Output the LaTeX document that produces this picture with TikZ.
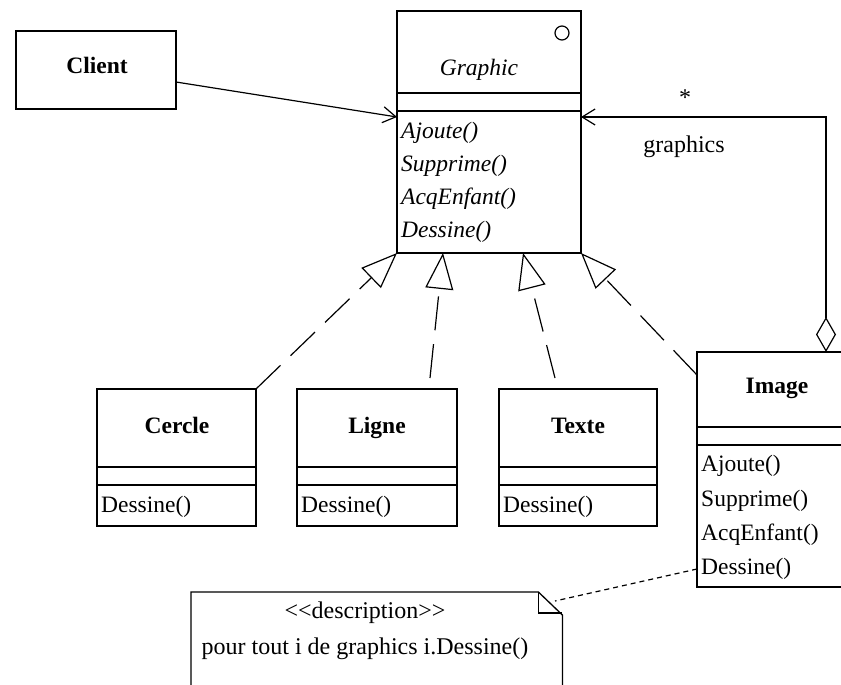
\documentclass[tikz,border=0pt]{standalone}
\usepackage{fontspec}
\setmainfont{Liberation Serif}
\usetikzlibrary{arrows.meta,calc}
\begin{document}
\begin{tikzpicture}[x=1pt,y=-1pt,
  box/.style={draw,line width=1.3pt,minimum width=160pt,anchor=north west,inner sep=0pt,outer sep=0pt},
  lbl/.style={font=\fontsize{24}{28}\selectfont,inner sep=0pt,text height=17pt,text depth=5pt},
  bld/.style={font=\fontsize{23.5}{28}\selectfont\bfseries,inner sep=0pt,text height=17pt,text depth=5pt},
  meth/.style={font=\fontsize{23.5}{28}\selectfont,inner sep=0pt,anchor=west,text height=17pt,text depth=5pt},
  imeth/.style={font=\fontsize{23.5}{28}\selectfont\itshape,inner sep=0pt,anchor=west,text height=17pt,text depth=5pt},
  sep/.style={line width=1.3pt},
  gen/.style={line width=1.2pt,dash pattern=on 34pt off 14pt,-{Triangle[open,length=36pt,width=28pt,line width=1.2pt]}},
  assoc/.style={line width=1.2pt,-{Straight Barb[length=13pt,width=16pt,line width=1.2pt]}},
  dotline/.style={line width=1.2pt,dash pattern=on 5pt off 4pt}
]
\useasboundingbox (0,0) rectangle (841,685);
\fill[white] (0,0) rectangle (841,685);

% Client
\node[box,minimum height=78pt] (client) at (16,31) {};
\node[bld] (clientname) at (97,68) {Client};

% Graphic
\node[box,minimum width=184pt,minimum height=242pt] (graphic) at (397,11) {};
\draw[sep] (397,93) -- (581,93);
\draw[sep] (397,111) -- (581,111);
\draw[line width=1.2pt] (562,33) circle (7pt);
\node[lbl,font=\fontsize{23.5}{28}\selectfont\itshape] (graphicname) at (479,70) {Graphic};
\node[imeth] (g1) at (401,132) {Ajoute()};
\node[imeth] (g2) at (401,165) {Supprime()};
\node[imeth] (g3) at (401,198) {AcqEnfant()};
\node[imeth] (g4) at (401,231) {Dessine()};

% Cercle
\node[box,minimum width=159pt,minimum height=137pt] (cercle) at (97,389) {};
\draw[sep] (97,467) -- (256,467);
\draw[sep] (97,485) -- (256,485);
\node[bld] (cerclename) at (177,427) {Cercle};
\node[meth] (c1) at (101,506) {Dessine()};

% Ligne
\node[box,minimum height=137pt] (ligne) at (297,389) {};
\draw[sep] (297,467) -- (457,467);
\draw[sep] (297,485) -- (457,485);
\node[bld] (lignename) at (377,427) {Ligne};
\node[meth] (l1) at (301,506) {Dessine()};

% Texte
\node[box,minimum width=158pt,minimum height=137pt] (texte) at (499,389) {};
\draw[sep] (499,467) -- (657,467);
\draw[sep] (499,485) -- (657,485);
\node[bld] (textename) at (578,427) {Texte};
\node[meth] (t1) at (503,506) {Dessine()};

% Image
\node[box,minimum height=235pt] (image) at (697,352) {};
\draw[sep] (697,427) -- (857,427);
\draw[sep] (697,445) -- (857,445);
\node[bld] (imagename) at (777,387) {Image};
\node[meth] (i1) at (701,465) {Ajoute()};
\node[meth] (i2) at (701,500) {Supprime()};
\node[meth] (i3) at (701,534) {AcqEnfant()};
\node[meth] (i4) at (701,568) {Dessine()};

% Note
\node[anchor=north west,minimum width=371pt,minimum height=100pt,inner sep=0pt] (note) at (191,592) {};
\draw[line width=1.3pt] (note.south west) -- (note.north west) -- ([xshift=-24pt]note.north east)
  -- ([yshift=-23pt]note.north east) -- (note.south east);
\draw[line width=1.2pt] ([xshift=-24pt]note.north east) -- ([xshift=-24pt,yshift=-21pt]note.north east)
  -- ([yshift=-21pt]note.north east);
\node[lbl] (stereo) at (365,612) {<\kern0pt<description>\kern0pt>};
\node[lbl] (notetext) at (365,648) {pour tout i de graphics i.Dessine()};
\coordinate (notetip) at (555,601);

% connectors
\draw[assoc] ([yshift=-51pt]client.north east) -- ([yshift=-106pt]graphic.north west);

\coordinate (aggI) at ([xshift=-31pt]image.north east);
\coordinate (aggG) at ([yshift=-106pt]graphic.north east);
\draw[line width=1.2pt,{Diamond[open,length=35pt,width=20pt,line width=1.2pt]}-{Straight Barb[length=13pt,width=16pt,line width=1.2pt]}]
  (aggI) |- (aggG);
\node[lbl] (star) at (685,99) {*};
\node[lbl] (rolename) at (684,146) {graphics};

\draw[gen] (cercle.north east) -- (graphic.south west);
\draw[gen] ([xshift=133pt,yshift=11pt]ligne.north west) -- ([xshift=46pt]graphic.south west);
\draw[gen] ([xshift=56pt,yshift=11pt]texte.north west) -- ([xshift=126pt]graphic.south west);
\draw[gen] ([yshift=-23pt]image.north west) -- (graphic.south east);

\draw[dotline] ([yshift=-217pt]image.north west) -- (notetip);
\end{tikzpicture}
\end{document}
